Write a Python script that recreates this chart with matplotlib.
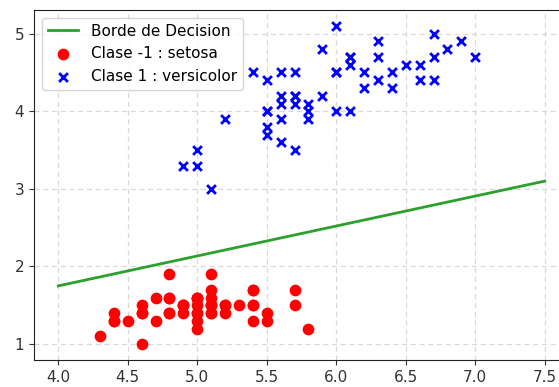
import numpy as np
import matplotlib.pyplot as plt

# iris: sepal length vs petal length
setosa_x = [5.1, 4.9, 4.7, 4.6, 5.0, 5.4, 4.6, 5.0, 4.4, 4.9, 5.4, 4.8, 4.8, 4.3, 5.8, 5.7, 5.4,
            5.1, 5.7, 5.1, 5.4, 5.1, 4.6, 5.1, 4.8, 5.0, 5.0, 5.2, 5.2, 4.7, 4.8, 5.4, 5.2, 5.5,
            4.9, 5.0, 5.5, 4.9, 4.4, 5.1, 5.0, 4.5, 4.4, 5.0, 5.1, 4.8, 5.1, 4.6, 5.3, 5.0]
setosa_y = [1.4, 1.4, 1.3, 1.5, 1.4, 1.7, 1.4, 1.5, 1.4, 1.5, 1.5, 1.6, 1.4, 1.1, 1.2, 1.5, 1.3,
            1.4, 1.7, 1.5, 1.7, 1.5, 1.0, 1.7, 1.9, 1.6, 1.6, 1.5, 1.4, 1.6, 1.6, 1.5, 1.5, 1.4,
            1.5, 1.2, 1.3, 1.5, 1.3, 1.5, 1.3, 1.3, 1.3, 1.6, 1.9, 1.4, 1.6, 1.4, 1.5, 1.4]
versicolor_x = [7.0, 6.4, 6.9, 5.5, 6.5, 5.7, 6.3, 4.9, 6.6, 5.2, 5.0, 5.9, 6.0, 6.1, 5.6, 6.7, 5.6,
                5.8, 6.2, 5.6, 5.9, 6.1, 6.3, 6.1, 6.4, 6.6, 6.8, 6.7, 6.0, 5.7, 5.5, 5.5, 5.8, 6.0,
                5.4, 6.0, 6.7, 6.3, 5.6, 5.5, 5.5, 6.1, 5.8, 5.0, 5.6, 5.7, 5.7, 6.2, 5.1, 5.7]
versicolor_y = [4.7, 4.5, 4.9, 4.0, 4.6, 4.5, 4.7, 3.3, 4.6, 3.9, 3.5, 4.2, 4.0, 4.7, 3.6, 4.4, 4.5,
                4.1, 4.5, 3.9, 4.8, 4.0, 4.9, 4.7, 4.3, 4.4, 4.8, 5.0, 4.5, 3.5, 3.8, 3.7, 3.9, 5.1,
                4.5, 4.5, 4.7, 4.4, 4.1, 4.0, 4.4, 4.6, 4.0, 3.3, 4.2, 4.2, 4.2, 4.3, 3.0, 4.1]

# decision border endpoints
border_x = [4.0, 7.5]
border_y = [1.75, 3.1]

fig = plt.figure(figsize=(5.59, 3.87), dpi=100)
ax = fig.add_axes([34/559, 1 - 360/387, (569 - 34)/559, (360 - 10)/387])

ax.plot(border_x, border_y, color='#2ca02c', linewidth=2, label='Borde de Decision')
ax.scatter(setosa_x, setosa_y, color='red', marker='o', s=55, label='Clase -1 : setosa')
ax.scatter(versicolor_x, versicolor_y, color='blue', marker='x', s=40, linewidths=2,
           label='Clase 1 : versicolor')

ax.set_xlim(3.825, 7.675)
ax.set_ylim(0.795, 5.305)
ax.set_xticks([4.0, 4.5, 5.0, 5.5, 6.0, 6.5, 7.0, 7.5])
ax.set_yticks([1, 2, 3, 4, 5])
ax.grid(True, linestyle=(0, (4, 3)), color='#d8d8d8', linewidth=0.9)
ax.set_axisbelow(True)
for sp in ax.spines.values():
    sp.set_color('#222222')
ax.tick_params(colors='#333333', labelsize=11)
ax.legend(loc='upper left', fontsize=11)

fig.savefig('out.png', dpi=100)
